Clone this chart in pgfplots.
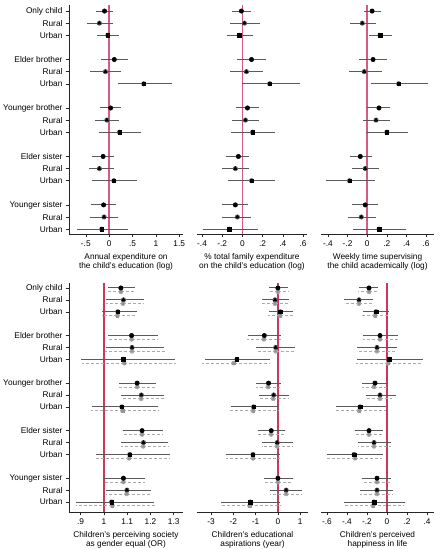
\documentclass[border=0pt]{standalone}
\usepackage{fontspec}
\setmainfont{Liberation Sans}
\usepackage{pgfplots}
\usepackage{pgfplotstable}
\pgfplotsset{compat=1.18}

\definecolor{refred}{RGB}{215,90,130}
\definecolor{refredb}{RGB}{205,55,95}
\definecolor{cigray}{RGB}{90,90,90}
\definecolor{altgray}{RGB}{170,170,170}
\definecolor{altmark}{RGB}{150,150,150}

% Estimates: y = row, t = c (all) / r (rural) / u (urban), b = point, lo/hi = 95% CI
\pgfplotstableread{
y  t  b     lo     hi
1  c -0.10 -0.29  0.08
2  r -0.21 -0.48  0.08
3  u -0.03 -0.26  0.22
5  c  0.11 -0.17  0.41
6  r -0.08 -0.41  0.26
7  u  0.74  0.18  1.34
9  c  0.03 -0.19  0.26
10 r -0.05 -0.31  0.21
11 u  0.22 -0.21  0.68
13 c -0.13 -0.36  0.11
14 r -0.21 -0.43  0.11
15 u  0.10 -0.36  0.59
17 c -0.12 -0.38  0.14
18 r -0.11 -0.40  0.19
19 u -0.16 -0.69  0.40
}\tabExp

\pgfplotstableread{
y  t  b     lo     hi
1  c -0.01 -0.10  0.09
2  r  0.02 -0.12  0.17
3  u -0.03 -0.15  0.10
5  c  0.09 -0.05  0.23
6  r  0.04 -0.12  0.20
7  u  0.27  0.00  0.57
9  c  0.05 -0.06  0.16
10 r  0.03 -0.10  0.16
11 u  0.10 -0.11  0.32
13 c -0.04 -0.16  0.07
14 r -0.07 -0.20  0.07
15 u  0.09 -0.14  0.32
17 c -0.07 -0.20  0.06
18 r -0.05 -0.20  0.09
19 u -0.13 -0.39  0.15
}\tabShare

\pgfplotstableread{
y  t  b     lo     hi
1  c  0.05 -0.03  0.14
2  r -0.05 -0.18  0.09
3  u  0.13  0.02  0.25
5  c  0.06 -0.08  0.20
6  r -0.03 -0.19  0.15
7  u  0.32  0.04  0.62
9  c  0.12  0.00  0.23
10 r  0.09 -0.04  0.23
11 u  0.20 -0.01  0.42
13 c -0.07 -0.18  0.05
14 r -0.02 -0.15  0.12
15 u -0.18 -0.42  0.08
17 c -0.02 -0.15  0.11
18 r -0.06 -0.20  0.09
19 u  0.12 -0.14  0.40
}\tabTime

% Outcome models: main estimate (b, lo, hi) and alternative specification (gb, glo, ghi)
\pgfplotstableread{
y  t  b      lo     hi     gb     glo    ghi
1  c  1.073  1.017  1.133  1.073  1.017  1.133
2  r  1.084  1.007  1.173  1.082  1.010  1.170
3  u  1.060  0.990  1.141  1.058  0.992  1.140
5  c  1.119  1.017  1.231  1.119  1.015  1.233
6  r  1.121  1.007  1.260  1.121  1.005  1.262
7  u  1.083  0.900  1.306  1.088  0.905  1.310
9  c  1.143  1.067  1.224  1.143  1.067  1.224
10 r  1.161  1.074  1.260  1.160  1.074  1.258
11 u  1.077  0.947  1.231  1.080  0.945  1.233
13 c  1.164  1.081  1.253  1.164  1.081  1.253
14 r  1.170  1.074  1.277  1.169  1.074  1.277
15 u  1.111  0.966  1.286  1.108  0.963  1.283
17 c  1.084  1.000  1.177  1.084  1.000  1.177
18 r  1.099  1.007  1.203  1.098  1.007  1.203
19 u  1.033  0.881  1.217  1.036  0.881  1.222
}\tabEqual

\pgfplotstableread{
y  t  b      lo     hi     gb     glo    ghi
1  c  0.00  -0.40   0.45   0.00  -0.42   0.45
2  r -0.13  -0.73   0.52  -0.13  -0.76   0.49
3  u  0.10  -0.42   0.67   0.09  -0.45   0.67
5  c -0.61  -1.36   0.15  -0.63  -1.39   0.15
6  r -0.10  -0.97   0.77  -0.10  -0.97   0.77
7  u -1.84  -3.25  -0.37  -1.99  -3.40  -0.39
9  c -0.42  -0.97   0.15  -0.44  -0.97   0.10
10 r -0.19  -0.85   0.48  -0.21  -0.88   0.48
11 u -1.09  -2.12   0.03  -1.12  -2.18   0.03
13 c -0.30  -0.91   0.30  -0.30  -0.90   0.30
14 r -0.03  -0.73   0.67  -0.04  -0.73   0.67
15 u -1.12  -2.31   0.09  -1.12  -2.31   0.09
17 c  0.00  -0.63   0.66   0.00  -0.63   0.66
18 r  0.37  -0.34   1.10   0.37  -0.34   1.10
19 u -1.24  -2.57   0.09  -1.27  -2.60   0.09
}\tabAsp

\pgfplotstableread{
y  t  b      lo     hi     gb     glo    ghi
1  c -0.18  -0.28  -0.09  -0.18  -0.29  -0.09
2  r -0.28  -0.43  -0.14  -0.28  -0.43  -0.14
3  u -0.11  -0.24   0.02  -0.12  -0.25   0.01
5  c -0.07  -0.24   0.11  -0.07  -0.24   0.11
6  r -0.10  -0.30   0.10  -0.10  -0.30   0.10
7  u  0.02  -0.30   0.36   0.01  -0.31   0.34
9  c -0.12  -0.25   0.01  -0.13  -0.25   0.00
10 r -0.07  -0.21   0.09  -0.07  -0.21   0.05
11 u -0.27  -0.51  -0.01  -0.28  -0.52  -0.01
13 c -0.18  -0.32  -0.04  -0.18  -0.32  -0.04
14 r -0.13  -0.29   0.04  -0.13  -0.29   0.04
15 u -0.33  -0.60  -0.04  -0.32  -0.60  -0.05
17 c -0.10  -0.25   0.04  -0.10  -0.25   0.04
18 r -0.10  -0.27   0.06  -0.10  -0.27   0.06
19 u -0.13  -0.43   0.18  -0.14  -0.44   0.17
}\tabHappy

\pgfplotsset{
  coef/.style={
    scale only axis, height=229pt, y dir=reverse,
    font=\fontsize{8.3}{9.5}\selectfont,
    axis x line*=bottom, axis y line*=left,
    axis line style={-, line width=0.5pt, black!85},
    tick style={line width=0.5pt, black!85},
    tick align=outside, major tick length=3pt,
    xticklabel style={font=\fontsize{8.3}{9.5}\selectfont},
    yticklabel style={font=\fontsize{8.3}{9.5}\selectfont},
    xlabel style={align=center, font=\fontsize{8.3}{9.5}\selectfont},
  },
  toprow/.style={ymin=0.5, ymax=19.4},
  botrow/.style={ymin=0.58, ymax=19.84},
  leftcol/.style={
    ytick={1,2,3,5,6,7,9,10,11,13,14,15,17,18,19},
    yticklabels={Only child,Rural,Urban,Elder brother,Rural,Urban,Younger brother,Rural,Urban,Elder sister,Rural,Urban,Younger sister,Rural,Urban},
  },
  othercol/.style={axis y line=none, ytick=\empty},
  markclasses/.style={
    scatter, only marks, scatter src=explicit symbolic,
    scatter/classes={
      c={mark=*, mark size=2.1pt, #1},
      r={mark=triangle*, mark size=2.0pt, #1},
      u={mark=square*, mark size=1.75pt, #1}}
  },
  zeroline/.style={refred, line width=1.4pt, forget plot},
  zerolineb/.style={refredb, line width=1.4pt, forget plot},
}

% main estimates: CI bars, then markers
\newcommand{\mainest}[1]{%
  \addplot[cigray, line width=1pt, only marks, mark=none, forget plot,
    error bars/.cd, x dir=both, x explicit, error mark=none,
    error bar style={cigray, line width=1pt}]
    table[x=b, y=y, x error plus expr=\thisrow{hi}-\thisrow{b},
          x error minus expr=\thisrow{b}-\thisrow{lo}] {#1};
  \addplot[markclasses=black, forget plot] table[x=b, y=y, meta=t] {#1};
}
% alternative specification, drawn just below each row
\newcommand{\altest}[1]{%
  \addplot[altgray, line width=0.7pt, only marks, mark=none, forget plot,
    error bars/.cd, x dir=both, x explicit, error mark=none,
    error bar style={altgray, line width=0.7pt, dash pattern=on 3pt off 2pt}]
    table[x=gb, y expr=\thisrow{y}+0.32, x error plus expr=\thisrow{ghi}-\thisrow{gb},
          x error minus expr=\thisrow{gb}-\thisrow{glo}] {#1};
  \addplot[markclasses={altmark}, forget plot, mark options={scale=0.7}]
    table[x=gb, y expr=\thisrow{y}+0.32, meta=t] {#1};
}

\begin{document}
\begin{tikzpicture}
\useasboundingbox (0,0) rectangle (445pt,549pt);

% ---------- top row ----------
\begin{axis}[coef, toprow, leftcol, at={(69pt,315pt)}, anchor=south west, width=114pt,
  xmin=-0.86, xmax=1.58, xtick={-0.5,0,0.5,1,1.5}, xticklabels={-.5,0,.5,1,1.5},
  xlabel={Annual expenditure on\\the child's education (log)}]
  \addplot[zeroline] coordinates {(0,0.5) (0,19.4)};
  \mainest{\tabExp}
\end{axis}

\begin{axis}[coef, toprow, othercol, at={(197pt,315pt)}, anchor=south west, width=110pt,
  xmin=-0.45, xmax=0.64, xtick={-0.4,-0.2,0,0.2,0.4,0.6}, xticklabels={-.4,-.2,0,.2,.4,.6},
  xlabel={\% total family expenditure\\on the child's education (log)}]
  \addplot[zeroline] coordinates {(0,0.5) (0,19.4)};
  \mainest{\tabShare}
\end{axis}

\begin{axis}[coef, toprow, othercol, at={(321pt,315pt)}, anchor=south west, width=113pt,
  xmin=-0.47, xmax=0.68, xtick={-0.4,-0.2,0,0.2,0.4,0.6}, xticklabels={-.4,-.2,0,.2,.4,.6},
  xlabel={Weekly time supervising\\the child academically (log)}]
  \addplot[zeroline] coordinates {(0,0.5) (0,19.4)};
  \mainest{\tabTime}
\end{axis}

% ---------- bottom row ----------
\begin{axis}[coef, botrow, leftcol, at={(69pt,37pt)}, anchor=south west, width=114pt,
  xmin=0.85, xmax=1.34, xtick={0.9,1,1.1,1.2,1.3}, xticklabels={.9,1,1.1,1.2,1.3},
  xlabel={Children's perceiving society\\as gender equal (OR)}]
  \addplot[zerolineb] coordinates {(1,0.58) (1,19.84)};
  \altest{\tabEqual}
  \mainest{\tabEqual}
\end{axis}

\begin{axis}[coef, botrow, othercol, at={(197pt,37pt)}, anchor=south west, width=111pt,
  xmin=-3.63, xmax=1.35, xtick={-3,-2,-1,0,1}, xticklabels={-3,-2,-1,0,1},
  xlabel={Children's educational\\aspirations (year)}]
  \addplot[zerolineb] coordinates {(0,0.58) (0,19.84)};
  \altest{\tabAsp}
  \mainest{\tabAsp}
\end{axis}

\begin{axis}[coef, botrow, othercol, at={(321pt,37pt)}, anchor=south west, width=113pt,
  xmin=-0.66, xmax=0.47, xtick={-0.6,-0.4,-0.2,0,0.2,0.4}, xticklabels={-.6,-.4,-.2,0,.2,.4},
  xlabel={Children's perceived\\happiness in life}]
  \addplot[zerolineb] coordinates {(0,0.58) (0,19.84)};
  \altest{\tabHappy}
  \mainest{\tabHappy}
\end{axis}
\end{tikzpicture}
\end{document}
